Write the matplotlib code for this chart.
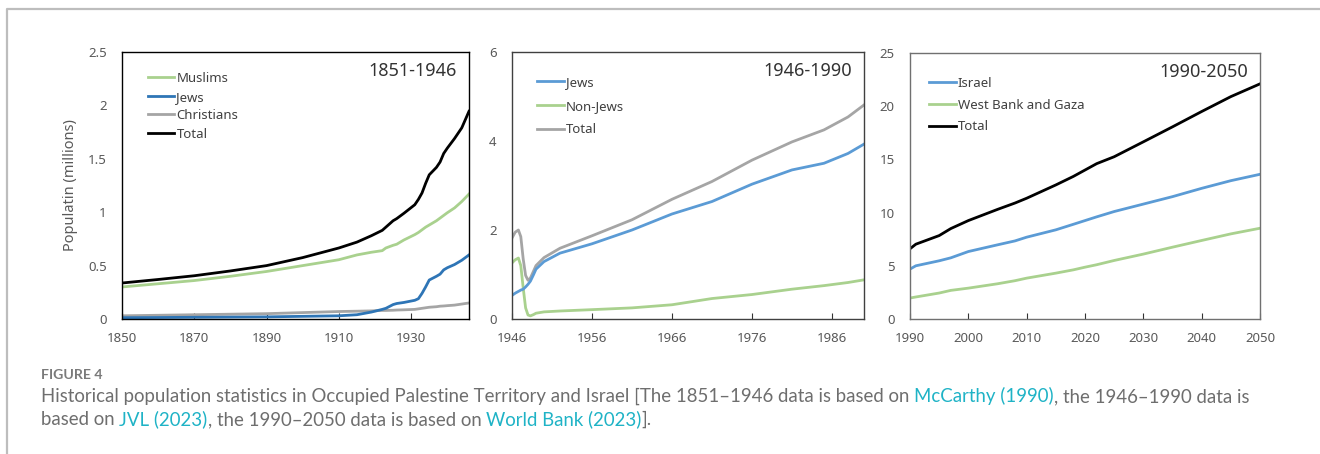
import matplotlib
matplotlib.use("Agg")
import matplotlib.pyplot as plt
from matplotlib.lines import Line2D

# ---- 1851-1946 (millions) ----
yrs_a = [1850, 1860, 1870, 1880, 1890, 1900, 1910, 1915, 1919, 1922, 1923, 1925, 1926,
         1928, 1931, 1932, 1933, 1934, 1935, 1937, 1938, 1939, 1940, 1942, 1944, 1946]
muslims_a = [0.30, 0.33, 0.36, 0.40, 0.445, 0.50, 0.555, 0.60, 0.625, 0.64, 0.665, 0.69, 0.70,
             0.74, 0.79, 0.81, 0.835, 0.86, 0.88, 0.92, 0.945, 0.97, 0.995, 1.04, 1.10, 1.17]
jews_a = [0.012, 0.014, 0.016, 0.018, 0.02, 0.025, 0.03, 0.04, 0.065, 0.09, 0.10, 0.135, 0.145,
          0.155, 0.175, 0.19, 0.24, 0.30, 0.365, 0.40, 0.42, 0.46, 0.48, 0.51, 0.55, 0.60]
christians_a = [0.03, 0.035, 0.04, 0.045, 0.05, 0.06, 0.07, 0.073, 0.076, 0.08, 0.08, 0.082, 0.084,
                0.086, 0.09, 0.095, 0.10, 0.105, 0.11, 0.115, 0.12, 0.122, 0.125, 0.13, 0.14, 0.15]
total_a = [0.337, 0.37, 0.405, 0.45, 0.50, 0.575, 0.665, 0.72, 0.78, 0.83, 0.86, 0.92, 0.94,
           0.99, 1.07, 1.12, 1.18, 1.27, 1.35, 1.42, 1.47, 1.55, 1.60, 1.69, 1.79, 1.945]

# ---- 1946-1990 (millions) ----
yrs_b = [1946, 1946.4, 1946.8, 1947.1, 1947.4, 1947.7, 1948.0, 1948.3, 1948.7, 1949, 1950, 1952,
         1956, 1961, 1966, 1971, 1976, 1981, 1985, 1988, 1990]
jews_b = [0.53, 0.58, 0.62, 0.65, 0.67, 0.72, 0.78, 0.85, 1.00, 1.12, 1.29, 1.48,
          1.69, 2.00, 2.36, 2.64, 3.03, 3.35, 3.50, 3.72, 3.93]
nonjews_b = [1.26, 1.33, 1.37, 1.20, 0.70, 0.25, 0.09, 0.07, 0.10, 0.13, 0.16, 0.18,
             0.21, 0.25, 0.32, 0.46, 0.55, 0.67, 0.75, 0.82, 0.88]
total_b = [1.82, 1.95, 2.0, 1.85, 1.35, 0.98, 0.87, 0.92, 1.08, 1.20, 1.38, 1.59,
           1.87, 2.23, 2.69, 3.09, 3.57, 3.98, 4.25, 4.54, 4.81]

# ---- 1990-2050 (millions) ----
yrs_c = [1990, 1991, 1995, 1997, 2000, 2005, 2008, 2010, 2015, 2018, 2020, 2022,
         2025, 2030, 2035, 2040, 2045, 2050]
israel_c = [4.69, 5.0, 5.47, 5.75, 6.34, 6.97, 7.34, 7.69, 8.38, 8.9, 9.25, 9.6,
            10.1, 10.8, 11.5, 12.28, 13.0, 13.6]
wbg_c = [1.97, 2.07, 2.44, 2.69, 2.9, 3.31, 3.6, 3.84, 4.31, 4.62, 4.87, 5.1,
         5.5, 6.1, 6.75, 7.38, 8.0, 8.53]
total_c = [6.6, 7.03, 7.84, 8.5, 9.25, 10.3, 10.9, 11.35, 12.6, 13.4, 14.0, 14.6,
           15.25, 16.65, 18.06, 19.5, 20.9, 22.1]

GREEN = "#a9d18e"
BLUE_DARK = "#2e75b6"
BLUE = "#5b9bd5"
GRAY = "#a5a5a5"
BLACK = "#000000"
TICK_GRAY = "#595959"
TEXT_GRAY = "#6e6e6e"
LINK = "#1fb3c6"

plt.rcParams["font.family"] = ["Noto Sans", "DejaVu Sans"]

W, H = 1320, 454
fig = plt.figure(figsize=(W / 100, H / 100), dpi=100)


def add_axes(x0, y0, x1, y1):
    return fig.add_axes([x0 / W, 1 - y1 / H, (x1 - x0) / W, (y1 - y0) / H])


def style(ax, spine_color, xticks, yticks, xlim, ylim, yfmt):
    ax.set_xlim(*xlim)
    ax.set_ylim(*ylim)
    ax.set_xticks(xticks)
    ax.set_yticks(yticks)
    ax.set_yticklabels([yfmt(v) for v in yticks])
    for s in ax.spines.values():
        s.set_color(spine_color)
        s.set_linewidth(1.0)
    ax.tick_params(axis="x", direction="in", length=4, width=0.8, color="#333333",
                   labelsize=9.5, labelcolor=TICK_GRAY, pad=9)
    ax.tick_params(axis="y", length=0, labelsize=9.5, labelcolor=TICK_GRAY, pad=11)


def legend(ax, handles, labels, anchor, spacing):
    lg = ax.legend(handles, labels, loc="upper left", bbox_to_anchor=anchor,
                   frameon=False, fontsize=9.5, handlelength=2.0, handletextpad=0.15,
                   labelspacing=spacing, borderaxespad=0, borderpad=0)
    for t in lg.get_texts():
        t.set_color("#404040")


def line(color, lw=2.0):
    return Line2D([], [], color=color, lw=lw)


# Panel 1: 1851-1946
ax1 = add_axes(122, 52, 469, 319)
ax1.plot(yrs_a, christians_a, color=GRAY, lw=2.0)
ax1.plot(yrs_a, jews_a, color=BLUE_DARK, lw=2.0)
ax1.plot(yrs_a, muslims_a, color=GREEN, lw=2.0)
ax1.plot(yrs_a, total_a, color=BLACK, lw=2.0)
style(ax1, "#000000", [1850, 1870, 1890, 1910, 1930], [0, 0.5, 1, 1.5, 2, 2.5],
      (1850, 1946), (0, 2.5), lambda v: f"{v:g}")
ax1.text(0.965, 0.962, "1851-1946", transform=ax1.transAxes, ha="right", va="top",
         fontsize=13, color="#333333")
legend(ax1, [line(GREEN), line(BLUE_DARK), line(GRAY), line(BLACK)],
       ["Muslims", "Jews", "Christians", "Total"], (0.075, 0.925), 0.42)
ax1.set_ylabel("Populatin (millions)", fontsize=10.5, color=TICK_GRAY, labelpad=7)

# Panel 2: 1946-1990
ax2 = add_axes(512, 52, 864, 319)
ax2.plot(yrs_b, nonjews_b, color=GREEN, lw=2.0)
ax2.plot(yrs_b, total_b, color=GRAY, lw=2.0)
ax2.plot(yrs_b, jews_b, color=BLUE, lw=2.0)
style(ax2, "#404040", [1946, 1956, 1966, 1976, 1986], [0, 2, 4, 6],
      (1946, 1990), (0, 6), lambda v: f"{v:g}")
ax2.text(0.965, 0.962, "1946-1990", transform=ax2.transAxes, ha="right", va="top",
         fontsize=13, color="#333333")
legend(ax2, [line(BLUE), line(GREEN), line(GRAY)],
       ["Jews", "Non-Jews", "Total"], (0.072, 0.91), 0.8)

# Panel 3: 1990-2050
ax3 = add_axes(910, 53, 1260, 319)
ax3.plot(yrs_c, wbg_c, color=GREEN, lw=2.0)
ax3.plot(yrs_c, israel_c, color=BLUE, lw=2.0)
ax3.plot(yrs_c, total_c, color=BLACK, lw=2.0)
style(ax3, "#707070", [1990, 2000, 2010, 2020, 2030, 2040, 2050], [0, 5, 10, 15, 20, 25],
      (1990, 2050), (0, 25), lambda v: f"{v:g}")
ax3.text(0.965, 0.962, "1990-2050", transform=ax3.transAxes, ha="right", va="top",
         fontsize=13, color="#333333")
legend(ax3, [line(BLUE), line(GREEN), line(BLACK)],
       ["Israel", "West Bank and Gaza", "Total"], (0.055, 0.91), 0.66)

# Outer frame (top and left rules)
fig.add_artist(Line2D([7 / W, 7 / W, 1.0], [0.0, 1 - 9 / H, 1 - 9 / H],
                      transform=fig.transFigure, color="#bdbdbd", lw=1.6))

# Caption
cap = fig.add_axes([0, 0, 1, 1])
cap.set_axis_off()
cap.set_xlim(0, W)
cap.set_ylim(H, 0)
cap.text(41, 379, "FIGURE 4", fontsize=10.2, color="#7a7a7a", fontweight="bold",
         family=["Lato", "DejaVu Sans"], va="baseline")

CAP_FONT = dict(fontsize=13.4, family=["Lato", "DejaVu Sans"])


def caption_line(x, y, pieces):
    prev = None
    for text, color in pieces:
        if prev is None:
            prev = cap.text(x, y, text, color=color, va="baseline", **CAP_FONT)
        else:
            prev = cap.annotate(text, xy=(1, 0), xycoords=prev, va="bottom", ha="left",
                                color=color, **CAP_FONT)


caption_line(41, 402, [
    ("Historical population statistics in Occupied Palestine Territory and Israel "
     "[The 1851\u20131946 data is based on\u00a0", TEXT_GRAY),
    ("McCarthy (1990)", LINK),
    (", the 1946\u20131990 data is", TEXT_GRAY),
])
caption_line(41, 425, [
    ("based on\u00a0", TEXT_GRAY),
    ("JVL (2023)", LINK),
    (", the 1990\u20132050 data is based on\u00a0", TEXT_GRAY),
    ("World Bank (2023)", LINK),
    ("].", TEXT_GRAY),
])

fig.savefig("out.png", dpi=100, facecolor="white")
